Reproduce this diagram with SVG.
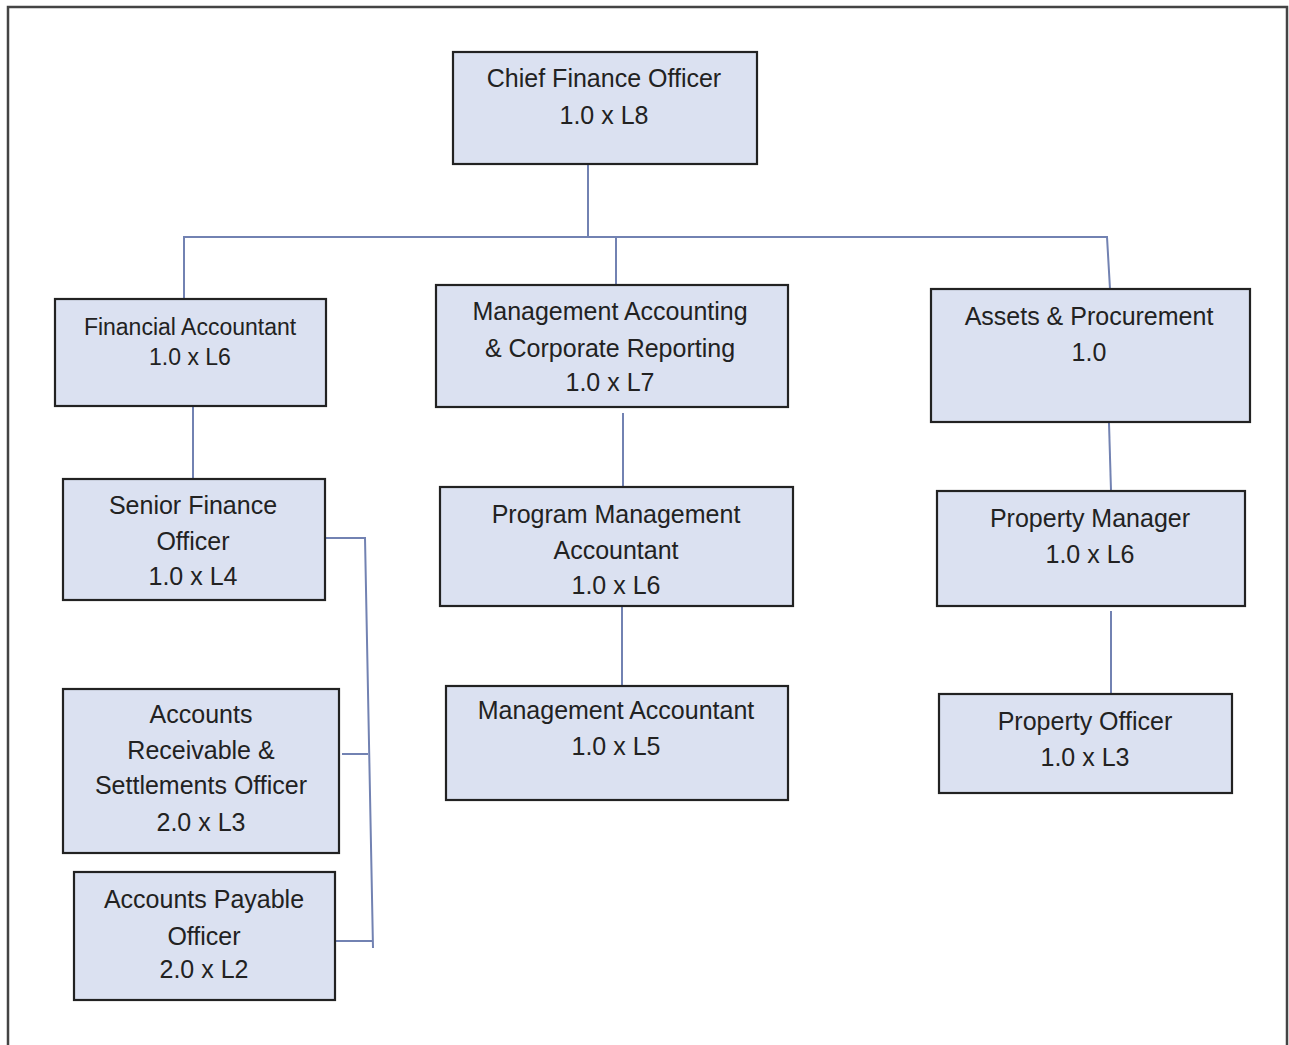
<svg xmlns="http://www.w3.org/2000/svg" width="1289" height="1045" viewBox="0 0 1289 1045">
<style>
.box{fill:#dbe1f1;stroke:#222;stroke-width:2.2}
.t{font-family:"Liberation Sans",Arial,sans-serif;font-size:25px;fill:#222;text-anchor:middle}
.s{font-size:23px}
.c{fill:none;stroke:#7282b2;stroke-width:2}
.frame{fill:none;stroke:#444;stroke-width:2.5}
</style>
<rect x="0" y="0" width="1289" height="1045" fill="#fff"/>
<path class="frame" d="M8,1045 V7 H1287 V1045"/>
<g id="connectors">
<path class="c" d="M588,164 V237"/>
<path class="c" d="M184,299 V237 H1107 L1110,289"/>
<path class="c" d="M616,237 V285"/>
<path class="c" d="M193,406 V479"/>
<path class="c" d="M325,538 H365 L373,948"/>
<path class="c" d="M342,754 H368"/>
<path class="c" d="M335,941 H373"/>
<path class="c" d="M623,413 V487"/>
<path class="c" d="M622,606 V686"/>
<path class="c" d="M1109,423 L1111,491"/>
<path class="c" d="M1111,611 V694"/>
</g>
<g id="cfo"><rect class="box" x="453" y="52" width="304" height="112"/>
<text class="t" x="604" y="87">Chief Finance Officer</text><text class="t" x="604" y="124">1.0 x L8</text></g>
<g id="fa"><rect class="box" x="55" y="299" width="271" height="107"/>
<text class="t s" x="190" y="335">Financial Accountant</text><text class="t s" x="190" y="365">1.0 x L6</text></g>
<g id="macr"><rect class="box" x="436" y="285" width="352" height="122"/>
<text class="t" x="610" y="320">Management Accounting</text><text class="t" x="610" y="357">&amp; Corporate Reporting</text><text class="t" x="610" y="391">1.0 x L7</text></g>
<g id="ap"><rect class="box" x="931" y="289" width="319" height="133"/>
<text class="t" x="1089" y="325">Assets &amp; Procurement</text><text class="t" x="1089" y="361">1.0</text></g>
<g id="sfo"><rect class="box" x="63" y="479" width="262" height="121"/>
<text class="t" x="193" y="514">Senior Finance</text><text class="t" x="193" y="550">Officer</text><text class="t" x="193" y="585">1.0 x L4</text></g>
<g id="pma"><rect class="box" x="440" y="487" width="353" height="119"/>
<text class="t" x="616" y="523">Program Management</text><text class="t" x="616" y="559">Accountant</text><text class="t" x="616" y="594">1.0 x L6</text></g>
<g id="pm"><rect class="box" x="937" y="491" width="308" height="115"/>
<text class="t" x="1090" y="527">Property Manager</text><text class="t" x="1090" y="563">1.0 x L6</text></g>
<g id="ma"><rect class="box" x="446" y="686" width="342" height="114"/>
<text class="t" x="616" y="719">Management Accountant</text><text class="t" x="616" y="755">1.0 x L5</text></g>
<g id="po"><rect class="box" x="939" y="694" width="293" height="99"/>
<text class="t" x="1085" y="730">Property Officer</text><text class="t" x="1085" y="766">1.0 x L3</text></g>
<g id="ar"><rect class="box" x="63" y="689" width="276" height="164"/>
<text class="t" x="201" y="723">Accounts</text><text class="t" x="201" y="759">Receivable &amp;</text><text class="t" x="201" y="794">Settlements Officer</text><text class="t" x="201" y="831">2.0 x L3</text></g>
<g id="apo"><rect class="box" x="74" y="872" width="261" height="128"/>
<text class="t" x="204" y="908">Accounts Payable</text><text class="t" x="204" y="945">Officer</text><text class="t" x="204" y="978">2.0 x L2</text></g>
</svg>
